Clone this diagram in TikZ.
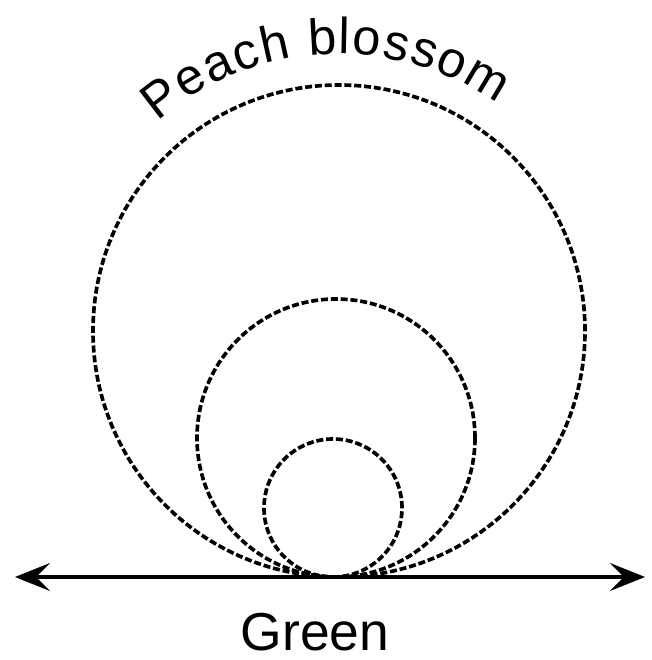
\documentclass[tikz,border=0pt]{standalone}
\usepackage{fontspec}
\newfontfamily\handfont{Liberation Sans}
\usetikzlibrary{arrows.meta,positioning,calc,decorations.text}

\tikzset{
  hatch/.style={line width=2.6pt,dash pattern=on 5pt off 2pt},
  ground/.style={line width=2.4pt,<->},
}

\begin{document}
\begin{tikzpicture}[>={Stealth[length=25pt,width=20pt,inset=10pt]},x=0.025cm,y=0.025cm]
 \useasboundingbox (0,0) rectangle (652,660);
 % touching circles on the ground line
 \foreach \cx/\r in {339/246,336/139,333/69} {
   \draw[hatch] (\cx,83+\r) circle (\r);
 }
 \coordinate (west) at (15,83);
 \coordinate (east) at (645,83);
 \draw[ground] (west) -- (east);
 \node[font=\handfont\fontsize{38}{42}\selectfont] (green) at (315,28) {Green};
 % label along the big circle
 \path[decorate,decoration={text along path,text align=fit to path,
   text={|\handfont\fontsize{36}{40}\selectfont|Peach blossom}}]
   (339,330) ++(131:276) arc (131:55:276);
\end{tikzpicture}
\end{document}
